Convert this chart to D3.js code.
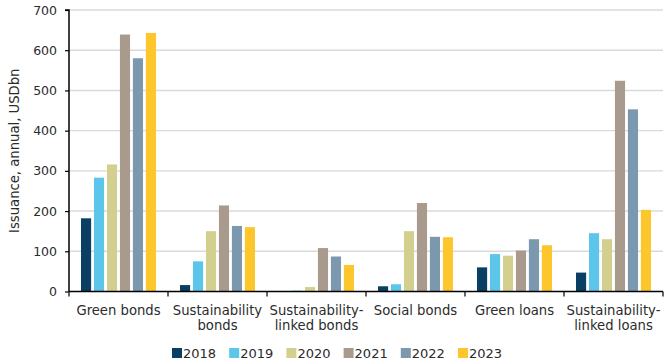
<!DOCTYPE html>
<html><head><meta charset="utf-8">
<script src="https://cdn.jsdelivr.net/npm/d3@7"></script>
<style>body{margin:0;background:#fff}svg{display:block}text{font-family:"DejaVu Sans",Verdana,sans-serif;fill:#2b2b2b}</style>
</head><body><svg id="c" width="670" height="363"></svg>
<script>
const categories = ["Green bonds","Sustainability bonds","Sustainability-linked bonds","Social bonds","Green loans","Sustainability-linked loans"];
const categoryLines = [["Green bonds"],["Sustainability","bonds"],["Sustainability-","linked bonds"],["Social bonds"],["Green loans"],["Sustainability-","linked loans"]];
const years = ["2018","2019","2020","2021","2022","2023"];
const v2018 = [182, 16, 0, 13, 60, 47];
const v2019 = [283, 75, 2, 18, 93, 145];
const v2020 = [316, 150, 11, 150, 89, 130];
const v2021 = [639, 214, 108, 220, 102, 524];
const v2022 = [580, 163, 87, 136, 130, 453];
const v2023 = [643, 160, 66, 135, 115, 203];
const yTicks = [0,100,200,300,400,500,600,700];
const colors = ["#083f62","#5cc5ea","#d3cf8e","#a89b8d","#7b98ae","#fdc62d"];
const series = [v2018,v2019,v2020,v2021,v2022,v2023];

const svg = d3.select("#c");
const L = 69, R = 663, T = 10, B = 291.5;
const y = d3.scaleLinear().domain([0,700]).range([B,T]);
const x0 = d3.scaleBand().domain(categories).range([L,R]);
const x1 = d3.scaleBand().domain(years).range([12, x0.bandwidth()-12]).paddingInner(0.22);

// grid
svg.append("g").selectAll("line").data(yTicks.filter(d=>d>0)).join("line")
  .attr("x1",L).attr("x2",R).attr("y1",d=>y(d)).attr("y2",d=>y(d))
  .attr("stroke","#dadada").attr("stroke-width",1.4);

// bars
const g = svg.append("g");
categories.forEach((c,ci)=>{
  years.forEach((yr,yi)=>{
    const v = series[yi][ci];
    g.append("rect").attr("x",x0(c)+x1(yr)).attr("width",x1.bandwidth())
      .attr("y",y(v)).attr("height",B-y(v)).attr("fill",colors[yi]);
  });
});

// y axis
const ya = svg.append("g").attr("transform",`translate(${L},0)`)
  .call(d3.axisLeft(y).tickValues(yTicks).tickSize(4).tickPadding(8));
ya.select(".domain").attr("stroke","#000").attr("stroke-width",1.5).attr("d",`M-4,${T}H0V${B}`);
ya.selectAll(".tick line").attr("stroke","#000").attr("stroke-width",1.2);
ya.selectAll(".tick text").attr("font-size",12.5).attr("font-family","DejaVu Sans").attr("fill","#2b2b2b");

// x axis
svg.append("line").attr("x1",L).attr("x2",R).attr("y1",B).attr("y2",B).attr("stroke","#000").attr("stroke-width",1.5);
const bounds = categories.map(c=>x0(c)).concat([R]);
svg.append("g").selectAll("line").data(bounds).join("line")
  .attr("x1",d=>d).attr("x2",d=>d).attr("y1",B).attr("y2",B+5).attr("stroke","#000").attr("stroke-width",1.2);

// x labels
categories.forEach((c,ci)=>{
  const t = svg.append("text").attr("text-anchor","middle").attr("font-size",13.2)
    .attr("x",x0(c)+x0.bandwidth()/2).attr("y",315);
  categoryLines[ci].forEach((ln,li)=>{
    t.append("tspan").attr("x",x0(c)+x0.bandwidth()/2).attr("dy",li===0?0:15).text(ln);
  });
});

// y title
svg.append("text").attr("transform",`translate(19,${(T+B)/2}) rotate(-90)`)
  .attr("text-anchor","middle").attr("font-size",13.2).text("Issuance, annual, USDbn");

// legend
const lg = svg.append("g").attr("transform","translate(172,348)");
years.forEach((yr,i)=>{
  const gi = lg.append("g").attr("transform",`translate(${i*57.2},0)`);
  gi.append("rect").attr("width",10).attr("height",10).attr("fill",colors[i]);
  gi.append("text").attr("x",11).attr("y",10).attr("font-size",13).text(yr);
});
</script></body></html>
